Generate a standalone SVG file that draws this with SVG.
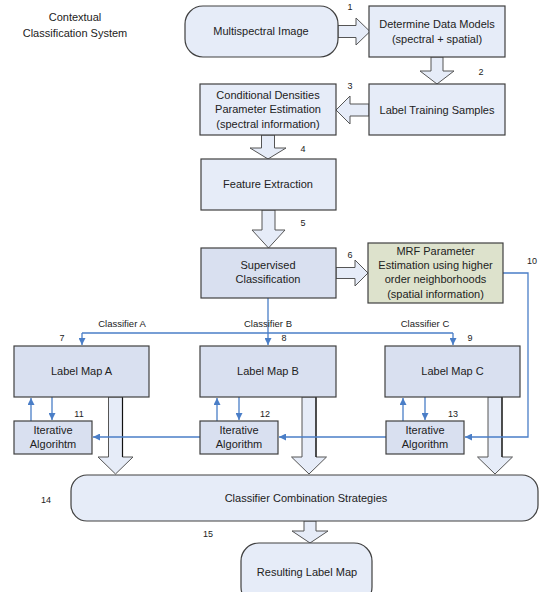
<svg xmlns="http://www.w3.org/2000/svg" width="540" height="592" viewBox="0 0 540 592">
<defs>
<style>
.box{fill:#E6ECF8;stroke:#404040;stroke-width:1.2}
.dk{fill:#D9E0F0;stroke:#404040;stroke-width:1.2}
.mrf{fill:#DDE2CC;stroke:#404040;stroke-width:1.2}
.ar{fill:#E6ECF8;stroke:#555;stroke-width:1}
.edge{stroke:#111;stroke-width:1.2;fill:none}
.bl{fill:none;stroke:#4A7EC7;stroke-width:1.3}
text{font-family:"Liberation Sans",Arial,sans-serif;fill:#222;text-anchor:middle}
.t{font-size:11px}
.n{font-size:9px}
.c{font-size:9.5px}
</style>
<marker id="ah" viewBox="0 0 10 10" refX="10" refY="5" markerWidth="7" markerHeight="7" markerUnits="userSpaceOnUse" orient="auto">
<path d="M0,0 L10,5 L0,10 z" fill="#4A7EC7"/>
</marker>
</defs>
<rect width="540" height="592" fill="#fff"/>

<g id="title">
<text class="t" x="75" y="21">Contextual</text>
<text class="t" x="75" y="37">Classification System</text>
</g>

<g id="arrows">
<path class="ar" d="M338,25.5 H356 V18 L370,31.5 L356,45 V37.5 H338 Z"/>
<path class="ar" d="M431,57 V71 H420 L437,84 L454,71 H443 V57 Z"/>
<path class="ar" d="M369,104 H350 V96 L336,110 L350,124 V116 H369 Z"/>
<path class="ar" d="M261.5,135 V148 H250 L268,159 L286,148 H274.5 V135 Z"/>
<path class="ar" d="M262,210 V230 H252 L268.5,248 L285,230 H275 V210 Z"/>
<path class="ar" d="M336,267.5 H355 V260 L368,273 L355,286 V278.5 H336 Z"/>
<path class="ar" d="M108.5,397 V457 H98 L115.5,474 L133,457 H122.5 V397 Z"/>
<path class="edge" d="M122.5,397 V457"/>
<path class="ar" d="M302,397 V457 H291.5 L309,474 L326.5,457 H316 V397 Z"/>
<path class="edge" d="M316,397 V457"/>
<path class="ar" d="M488,397 V457 H477.5 L495,474 L512.5,457 H502 V397 Z"/>
<path class="edge" d="M502,397 V457"/>
<path class="ar" d="M304,521 V531 H292 L310,543 L328,531 H316 V521 Z"/>
</g>

<g id="connectors">
<path class="bl" d="M268,298 V345" marker-end="url(#ah)"/>
<path class="bl" d="M82,333 H453"/>
<path class="bl" d="M82,333 V345" marker-end="url(#ah)"/>
<path class="bl" d="M453,333 V345" marker-end="url(#ah)"/>
<path class="bl" d="M503,273 H528 V437 H465" marker-end="url(#ah)"/>
<path class="bl" d="M386,437 H279" marker-end="url(#ah)"/>
<path class="bl" d="M200,437 H93" marker-end="url(#ah)"/>
<path class="bl" d="M31,421 V398" marker-end="url(#ah)"/>
<path class="bl" d="M52,397 V420" marker-end="url(#ah)"/>
<path class="bl" d="M217,421 V398" marker-end="url(#ah)"/>
<path class="bl" d="M239,397 V420" marker-end="url(#ah)"/>
<path class="bl" d="M403,421 V398" marker-end="url(#ah)"/>
<path class="bl" d="M425,397 V420" marker-end="url(#ah)"/>
</g>

<g id="n-multispectral">
<rect class="box" x="185" y="6" width="153" height="51" rx="18"/>
<text class="t" x="261" y="35">Multispectral Image</text>
</g>
<g id="n-datamodels">
<rect class="box" x="369" y="6" width="136" height="51"/>
<text class="t" x="437" y="28">Determine Data Models</text>
<text class="t" x="437" y="43">(spectral + spatial)</text>
</g>
<g id="n-training">
<rect class="box" x="369" y="84" width="136" height="51"/>
<text class="t" x="437" y="114">Label Training Samples</text>
</g>
<g id="n-conditional">
<rect class="box" x="200" y="84" width="136" height="51"/>
<text class="t" x="268" y="99">Conditional Densities</text>
<text class="t" x="268" y="113">Parameter Estimation</text>
<text class="t" x="268" y="128">(spectral information)</text>
</g>
<g id="n-feature">
<rect class="box" x="201" y="159" width="135" height="51"/>
<text class="t" x="268" y="188">Feature Extraction</text>
</g>
<g id="n-supervised">
<rect class="dk" x="201" y="248" width="135" height="50"/>
<text class="t" x="268" y="269">Supervised</text>
<text class="t" x="268" y="283">Classification</text>
</g>
<g id="n-mrf">
<rect class="mrf" x="368" y="243" width="135" height="60"/>
<text class="t" x="435.5" y="255">MRF Parameter</text>
<text class="t" x="435.5" y="269">Estimation using higher</text>
<text class="t" x="435.5" y="283">order neighborhoods</text>
<text class="t" x="435.5" y="298">(spatial information)</text>
</g>
<g id="n-mapA">
<rect class="dk" x="14" y="346" width="135" height="51"/>
<text class="t" x="81.5" y="375">Label Map A</text>
</g>
<g id="n-mapB">
<rect class="dk" x="200" y="346" width="136" height="51"/>
<text class="t" x="268" y="375">Label Map B</text>
</g>
<g id="n-mapC">
<rect class="dk" x="385" y="346" width="135" height="51"/>
<text class="t" x="452.5" y="375">Label Map C</text>
</g>
<g id="n-iterA">
<rect class="dk" x="14" y="421" width="78" height="33"/>
<text class="t" x="53" y="434">Iterative</text>
<text class="t" x="53" y="448">Algorihtm</text>
</g>
<g id="n-iterB">
<rect class="dk" x="200" y="421" width="78" height="33"/>
<text class="t" x="239" y="434">Iterative</text>
<text class="t" x="239" y="448">Algorithm</text>
</g>
<g id="n-iterC">
<rect class="dk" x="386" y="421" width="78" height="33"/>
<text class="t" x="425" y="434">Iterative</text>
<text class="t" x="425" y="448">Algorithm</text>
</g>
<g id="n-combination">
<rect class="box" x="71" y="475" width="467" height="46" rx="16"/>
<text class="t" x="306" y="502">Classifier Combination Strategies</text>
</g>
<g id="n-result">
<rect class="box" x="241" y="543" width="131" height="62" rx="18"/>
<text class="t" x="307" y="576">Resulting Label Map</text>
</g>

<g id="labels">
<text class="n" x="350" y="10">1</text>
<text class="n" x="481" y="75">2</text>
<text class="n" x="350" y="89">3</text>
<text class="n" x="303" y="152">4</text>
<text class="n" x="303" y="226">5</text>
<text class="n" x="350" y="258">6</text>
<text class="n" x="532" y="264">10</text>
<text class="n" x="62" y="341">7</text>
<text class="n" x="284" y="341">8</text>
<text class="n" x="470" y="341">9</text>
<text class="n" x="79" y="417">11</text>
<text class="n" x="265" y="417">12</text>
<text class="n" x="453" y="417">13</text>
<text class="n" x="46" y="503">14</text>
<text class="n" x="208" y="537">15</text>
<text class="c" x="122" y="327">Classifier A</text>
<text class="c" x="268" y="327">Classifier B</text>
<text class="c" x="425" y="327">Classifier C</text>
</g>
</svg>
